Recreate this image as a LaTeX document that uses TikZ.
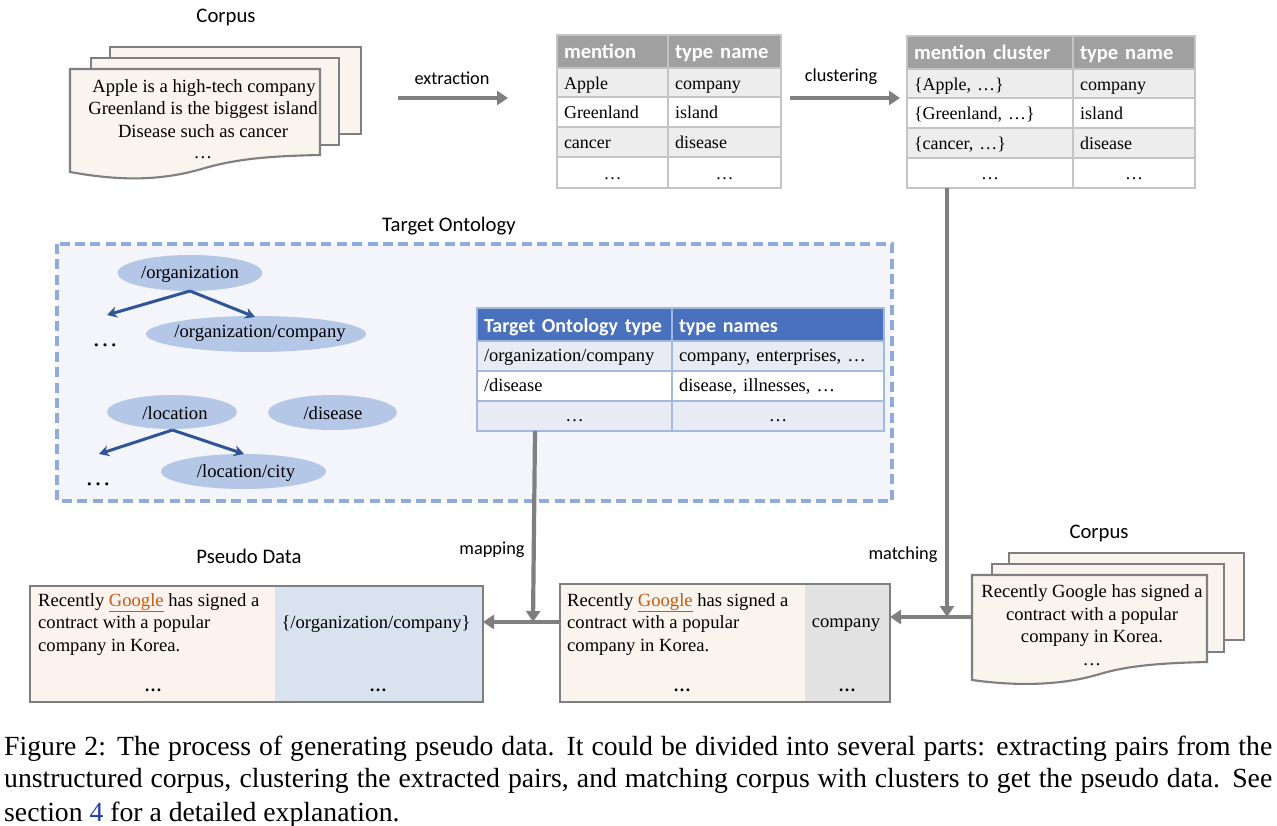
\documentclass[tikz,border=0pt]{standalone}
\usepackage{fontspec}
\setmainfont{Liberation Serif}
\newfontfamily\calfont{Carlito}
\usetikzlibrary{arrows.meta,shapes.geometric}
\definecolor{flow}{HTML}{7F7F7F}
\definecolor{paper}{HTML}{F9F4EE}
\definecolor{hgray}{HTML}{A0A0A0}
\definecolor{rowgray}{HTML}{EDEDED}
\definecolor{gridgray}{HTML}{C4C4C4}
\definecolor{hblue}{HTML}{4A71BD}
\definecolor{rowblue}{HTML}{E8EBF4}
\definecolor{gridblue}{HTML}{A3B9E0}
\definecolor{dashblue}{HTML}{8FAADC}
\definecolor{panel}{HTML}{F3F5FB}
\definecolor{ell}{HTML}{B4C7E7}
\definecolor{tree}{HTML}{2F5597}
\definecolor{goog}{HTML}{C55A11}
\definecolor{pinkish}{HTML}{FDF3EE}
\definecolor{blueish}{HTML}{D9E3F0}
\definecolor{grayish}{HTML}{E2E2E2}
\definecolor{refblue}{HTML}{1F3FA8}
\newcommand{\ggl}{\textcolor{goog}{\underline{Google}}}
% cell: name, x0, y0, x1, y1, style, text
\newcommand{\tcell}[7]{%
  \pgfmathsetmacro{\cw}{#4-#2}\pgfmathsetmacro{\ch}{#5-#3}%
  \pgfmathsetmacro{\cx}{(#2+#4)/2}\pgfmathsetmacro{\cy}{(#3+#5)/2}%
  \pgfmathsetmacro{\ct}{#4-#2-14}%
  \node[#6,minimum width=\cw pt,minimum height=\ch pt,text width=\ct pt] (#1) at (\cx,\cy) {#7};}
\newcommand{\sheet}[5]{% x0,y0,x1,y1,style
  \draw[sheetline,#5] (#1,#2) rectangle (#3,#4);}
\tikzset{
  x=1pt,y=-1pt,
  sheetline/.style={draw=flow,fill=paper,line width=2.1pt},
  cellbase/.style={inner xsep=7pt,inner ysep=0pt,text height=18pt,text depth=4pt},
  graycell/.style={cellbase,draw=gridgray,line width=1.3pt,align=left,font=\fontsize{18}{20}\selectfont},
  grayhead/.style={graycell,fill=hgray,text=white,font=\calfont\bfseries\fontsize{20.6}{22}\selectfont},
  grayrow/.style={graycell,fill=rowgray},
  whiterow/.style={graycell,fill=white},
  graydots/.style={whiterow,align=center},
  bluecell/.style={cellbase,text height=15pt,draw=gridblue,line width=1.3pt,align=left,font=\fontsize{18.5}{20}\selectfont},
  bluehead/.style={bluecell,text height=19pt,fill=hblue,text=white,font=\calfont\bfseries\fontsize{20}{22}\selectfont},
  bluerow/.style={bluecell,fill=rowblue},
  bluewhite/.style={bluecell,fill=white},
  bluedots/.style={bluerow,align=center},
  lbl/.style={font=\calfont\fontsize{20.7}{22}\selectfont,inner sep=0pt},
  smalllbl/.style={font=\calfont\fontsize{18.3}{20}\selectfont,inner sep=0pt},
  body/.style={font=\fontsize{18.6}{22.7}\selectfont,inner sep=0pt},
  onto/.style={ellipse,fill=ell,inner sep=0pt},
  flowarrow/.style={draw=flow,line width=4.2pt,-{Triangle[length=11pt,width=14pt]}},
  treearrow/.style={draw=tree,line width=3pt,-{Stealth[length=10pt,width=11pt]}},
  bigdots/.style={font=\fontsize{26}{26}\selectfont,inner sep=0pt},
  capline/.style={font=\fontsize{27.7}{33}\selectfont,inner sep=0pt,anchor=base west},
  datatext/.style={body,align=left,anchor=north west}
}
\begin{document}
\begin{tikzpicture}
\useasboundingbox (0,0) rectangle (1277,826);
\fill[white] (0,0) rectangle (1277,826);

% --- top corpus
\node[lbl] (corpusA) at (226,17) {Corpus};
\sheet{110}{47}{361}{134}{}
\sheet{91}{58}{339}{145}{}
\draw[sheetline] (70,69) -- (320,69) -- (320,155) .. controls (275,156) and (240,158) .. (205,168) .. controls (165,180) and (125,182) .. (70,172) -- cycle;
\node[body] (docA1) at (204,88.5) {Apple is a high-tech company};
\node[body] (docA2) at (203,110.5) {Greenland is the biggest island};
\node[body] (docA3) at (203,131.5) {Disease such as cancer};
\node[body] (docA4) at (203,158) {\ldots};

% --- mention table
\tcell{m00}{557}{35}{668}{68}{grayhead}{mention}
\tcell{m01}{668}{35}{781}{68}{grayhead}{type name}
\tcell{m10}{557}{68}{668}{97}{grayrow}{Apple}
\tcell{m11}{668}{68}{781}{97}{grayrow}{company}
\tcell{m20}{557}{97}{668}{127}{whiterow}{Greenland}
\tcell{m21}{668}{97}{781}{127}{whiterow}{island}
\tcell{m30}{557}{127}{668}{157}{grayrow}{cancer}
\tcell{m31}{668}{127}{781}{157}{grayrow}{disease}
\tcell{m40}{557}{157}{668}{188}{graydots}{\ldots}
\tcell{m41}{668}{157}{781}{188}{graydots}{\ldots}

% --- cluster table
\tcell{c00}{907}{36}{1073}{69}{grayhead}{mention cluster}
\tcell{c01}{1073}{36}{1195}{69}{grayhead}{type name}
\tcell{c10}{907}{69}{1073}{98}{grayrow}{\{Apple, \ldots\}}
\tcell{c11}{1073}{69}{1195}{98}{grayrow}{company}
\tcell{c20}{907}{98}{1073}{128}{whiterow}{\{Greenland, \ldots\}}
\tcell{c21}{1073}{98}{1195}{128}{whiterow}{island}
\tcell{c30}{907}{128}{1073}{158}{grayrow}{\{cancer, \ldots\}}
\tcell{c31}{1073}{128}{1195}{158}{grayrow}{disease}
\tcell{c40}{907}{158}{1073}{188}{graydots}{\ldots}
\tcell{c41}{1073}{158}{1195}{188}{graydots}{\ldots}

% --- top arrows
\coordinate (exS) at (398,98); \coordinate (exE) at (508,98);
\coordinate (clS) at (790,98); \coordinate (clE) at (900,98);
\draw[flowarrow] (exS) -- (exE);
\draw[flowarrow] (clS) -- (clE);
\node[smalllbl] (lblEx) at (452,78.5) {extraction};
\node[smalllbl] (lblCl) at (841,76.5) {clustering};

% --- ontology panel
\node[lbl] (ontoT) at (449,226) {Target Ontology};
\draw[draw=dashblue,fill=panel,line width=3.2pt,dash pattern=on 10pt off 5.4pt] (57,244) rectangle (892,501);
\node[onto,minimum width=145pt,minimum height=36pt] (org) at (190,273) {};
\node[onto,minimum width=220pt,minimum height=36pt] (orgc) at (256,334) {};
\node[onto,minimum width=130pt,minimum height=34pt] (loc) at (172,412) {};
\node[onto,minimum width=129pt,minimum height=35pt] (dis) at (332.5,412.5) {};
\node[onto,minimum width=165pt,minimum height=35pt] (city) at (243.5,471.5) {};
\node[body] (orgL) at (190,274.5) {/organization};
\node[body] (orgcL) at (260,333.5) {/organization/company};
\node[body] (locL) at (175,413) {/location};
\node[body] (disL) at (333,413) {/disease};
\node[body] (cityL) at (246,473) {/location/city};
\node[bigdots] (d1) at (105,345) {\ldots};
\node[bigdots] (d2) at (98,484) {\ldots};
\coordinate (d1a) at (107,315);
\coordinate (d2a) at (99,454);
\coordinate (orgb) at (190,291);
\coordinate (locb) at (172.5,430);
\coordinate (orgct) at (255,317);
\coordinate (cityt) at (244,454);
\draw[treearrow] (orgb) -- (d1a);
\draw[treearrow] (orgb) -- (orgct);
\draw[treearrow] (locb) -- (d2a);
\draw[treearrow] (locb) -- (cityt);

% --- ontology table
\tcell{t00}{477}{308}{672}{341}{bluehead}{Target Ontology type}
\tcell{t01}{672}{308}{884}{341}{bluehead}{type names}
\tcell{t10}{477}{341}{672}{371}{bluerow}{/organization/company}
\tcell{t11}{672}{341}{884}{371}{bluerow}{company, enterprises, \ldots}
\tcell{t20}{477}{371}{672}{401}{bluewhite}{/disease}
\tcell{t21}{672}{371}{884}{401}{bluewhite}{disease, illnesses, \ldots}
\tcell{t30}{477}{401}{672}{431}{bluedots}{\ldots}
\tcell{t31}{672}{401}{884}{431}{bluedots}{\ldots}

% --- pseudo data
\node[lbl] (pseudoT) at (249,556.5) {Pseudo Data};
\fill[pinkish] (30,586) rectangle (275,702);
\fill[blueish] (275,586) rectangle (483,702);
\node[draw=flow,line width=1.2pt,minimum width=453pt,minimum height=116pt,inner sep=0pt] (pbox) at (256.5,644) {};
\node[datatext] (ptxt) at (38,593) {Recently \ggl\ has signed a\\contract with a popular\\company in Korea.};
\node[body] (ptype) at (376,624.5) {\{/organization/company\}};
\node[body,font=\bfseries\fontsize{17.5}{20}\selectfont] (pd1) at (153,690) {\ldots};
\node[body,font=\bfseries\fontsize{17.5}{20}\selectfont] (pd2) at (378,690) {\ldots};

% --- matched data
\fill[paper] (560,584) rectangle (805,702);
\fill[grayish] (805,584) rectangle (890,702);
\node[draw=flow,line width=1.2pt,minimum width=330pt,minimum height=118pt,inner sep=0pt] (mbox) at (725,643) {};
\node[datatext] (mtxt) at (567,593) {Recently \ggl\ has signed a\\contract with a popular\\company in Korea.};
\node[body] (mtype) at (846,625) {company};
\node[body,font=\bfseries\fontsize{17.5}{20}\selectfont] (md1) at (682,690) {\ldots};
\node[body,font=\bfseries\fontsize{17.5}{20}\selectfont] (md2) at (847,690) {\ldots};

% --- bottom corpus
\node[lbl] (corpusB) at (1099,533.5) {Corpus};
\sheet{1009}{553}{1244}{640}{}
\sheet{992}{564}{1224}{652}{}
\draw[sheetline] (972,575) -- (1207,575) -- (1207,662) .. controls (1165,663) and (1130,665) .. (1100,674) .. controls (1060,686) and (1015,686) .. (972,680) -- cycle;
\node[body] (docB1) at (1092,593.5) {Recently Google has signed a};
\node[body] (docB2) at (1092,616.5) {contract with a popular};
\node[body] (docB3) at (1092,638.5) {company in Korea.};
\node[body] (docB4) at (1092,665) {\ldots};

% --- connectors
\coordinate (docBl) at (972,617);
\coordinate (mboxr) at (890,617);
\coordinate (cb) at (947,188);
\coordinate (ctee) at (947,617);
\coordinate (tb) at (535,431);
\coordinate (ttee) at (533,622);
\coordinate (mboxl) at (560,622);
\coordinate (pboxr) at (483,622);
\draw[flowarrow] (docBl) -- (mboxr);
\draw[flowarrow] (cb) -- (ctee);
\draw[flowarrow] (tb) -- (ttee);
\draw[flowarrow] (mboxl) -- (pboxr);
\node[smalllbl] (lblMap) at (492,550) {mapping};
\node[smalllbl] (lblMat) at (903,555) {matching};

% --- caption
\node[capline] (cap1) at (4,755) {\hbox to 1268pt{Figure 2: The process of generating pseudo data.  It could be divided into several parts: extracting pairs from the}};
\node[capline] (cap2) at (4,787) {\hbox to 1268pt{unstructured corpus, clustering the extracted pairs, and matching corpus with clusters to get the pseudo data.  See}};
\node[capline] (cap3) at (4,821) {section \textcolor{refblue}{4} for a detailed explanation.};
\end{tikzpicture}
\end{document}
